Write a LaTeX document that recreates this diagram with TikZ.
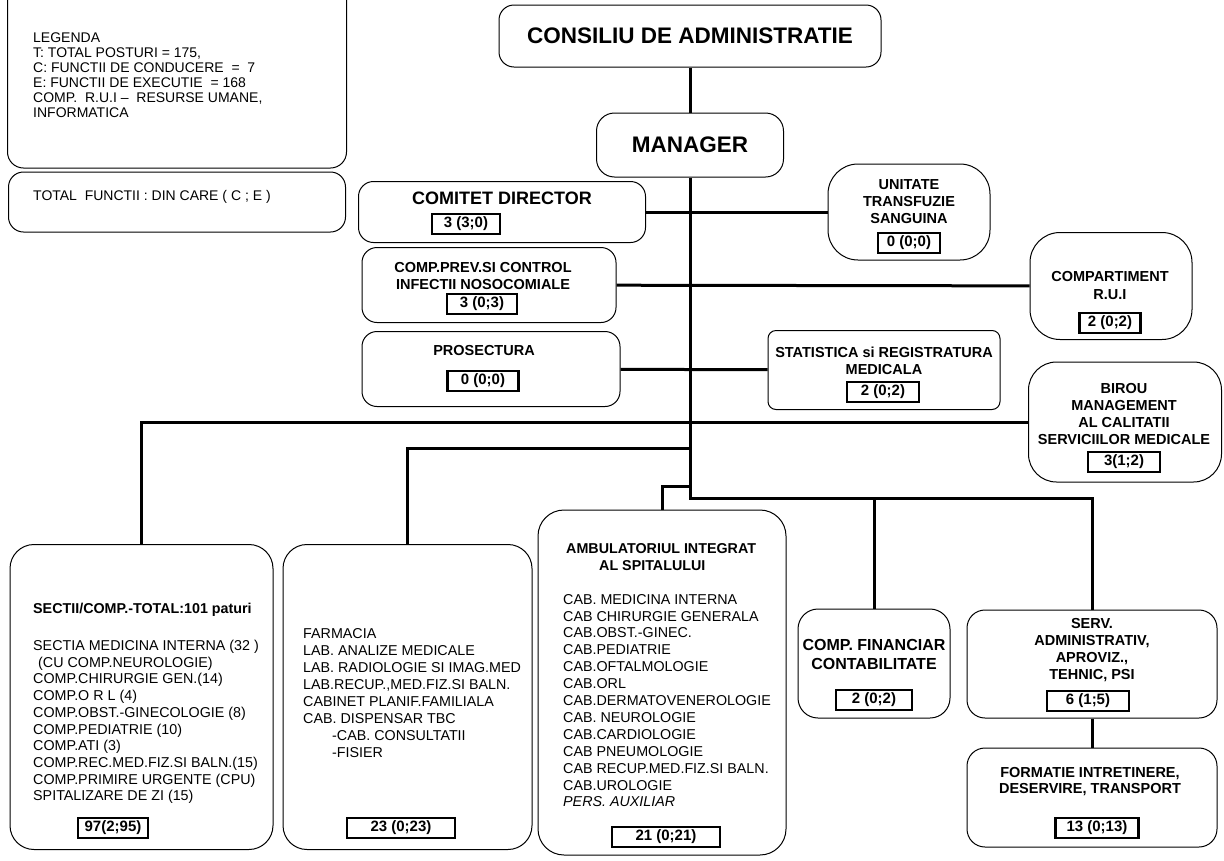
\documentclass[tikz,border=0pt]{standalone}
\usepackage{fontspec}
\setmainfont{Liberation Sans}
\usetikzlibrary{positioning}

\begin{document}
\begin{tikzpicture}[x=1pt,y=-1pt,
	box/.style={draw,line width=1pt,rounded corners=15pt},
	roundbox/.style={box,rounded corners=30pt},
	cnt/.style={draw,line width=2.6pt,inner sep=0pt,minimum height=20pt,font=\bfseries\fontsize{15}{17}\selectfont},
	lbl/.style={align=center,inner sep=0pt,font=\bfseries\fontsize{14.5}{17}\selectfont},
	lst/.style={align=left,anchor=north west,inner sep=0pt,font=\fontsize{14.3}{16.8}\selectfont},
	conn/.style={line width=3pt},
	]
	\useasboundingbox (0,0) rectangle (1224,860);
	% top
	\node[box,minimum width=382,minimum height=62,font=\bfseries\fontsize{22.5}{26}\selectfont] (consiliu) at (690,36) {CONSILIU DE ADMINISTRATIE};
	\node[box,rounded corners=18pt,minimum width=187,minimum height=64,font=\bfseries\fontsize{22.5}{26}\selectfont] (manager) at (690,145) {MANAGER};
	% legend
	\node[box,rounded corners=16pt,minimum width=339,minimum height=190] (legenda) at (177,73) {};
	\node[lst,font=\fontsize{14}{15}\selectfont] (legtxt) at (33,33) {LEGENDA\\T: TOTAL POSTURI = 175,\\C: FUNCTII DE CONDUCERE \ = \ 7\\E: FUNCTII DE EXECUTIE \ = 168\\COMP. \ R.U.I -- \ RESURSE UMANE,\\INFORMATICA};
	\node[box,minimum width=337,minimum height=60] (totalf) at (177,202) {};
	\node[anchor=base west,inner sep=0pt,font=\fontsize{14}{15}\selectfont] (totaltxt) at (33,200) {TOTAL \ FUNCTII : DIN CARE ( C ; E )};
	% left of the trunk
	\node[box,minimum width=287,minimum height=61] (comitet) at (502,212) {};
	\node[lbl,font=\bfseries\fontsize{18}{20}\selectfont] (comitettxt) at (502,198) {COMITET DIRECTOR};
	\node[cnt,minimum width=68] (comitetnr) at (466,224) {3 (3;0)};
	\node[box,minimum width=254,minimum height=75] (prev) at (489,285) {};
	\node[lbl] (prevtxt) at (483,276) {COMP.PREV.SI CONTROL\\INFECTII NOSOCOMIALE};
	\node[cnt,minimum width=70] (prevnr) at (482,304) {3 (0;3)};
	\node[box,minimum width=258,minimum height=75] (prosect) at (491,369) {};
	\node[lbl] (prosecttxt) at (484,351) {PROSECTURA};
	\node[cnt,minimum width=71] (prosectnr) at (483,381) {0 (0;0)};
	% right of the trunk
	\node[roundbox,minimum width=162,minimum height=96] (unitate) at (909,212) {};
	\node[lbl] (unitatetxt) at (909,202) {UNITATE\\TRANSFUZIE\\SANGUINA};
	\node[cnt,minimum width=62] (unitatenr) at (909,243) {0 (0;0)};
	\node[roundbox,minimum width=162,minimum height=107] (rui) at (1111,286) {};
	\node[lbl,font=\bfseries\fontsize{14.5}{18}\selectfont] (ruitxt) at (1110,286) {COMPARTIMENT\\R.U.I};
	\node[cnt,minimum width=61] (ruinr) at (1110,323) {2 (0;2)};
	\node[box,rounded corners=8pt,minimum width=232,minimum height=79] (statist) at (884,370) {};
	\node[lbl] (statisttxt) at (884,361) {STATISTICA si REGISTRATURA\\MEDICALA};
	\node[cnt,minimum width=72] (statistnr) at (883,392) {2 (0;2)};
	\node[roundbox,rounded corners=28pt,minimum width=193,minimum height=120] (birou) at (1125,422) {};
	\node[lbl] (biroutxt) at (1124,414) {BIROU\\MANAGEMENT\\AL CALITATII\\SERVICIILOR MEDICALE};
	\node[cnt,minimum width=72] (birounr) at (1124,462) {3(1;2)};
	% bottom row
	\node[box,rounded corners=24pt,minimum width=263,minimum height=305] (sectii) at (141.5,697) {};
	\node[lst,font=\bfseries\fontsize{14.3}{16.8}\selectfont] (sectiititle) at (33,603) {SECTII/COMP.-TOTAL:101 paturi};
	\node[lst,font=\fontsize{14.3}{16.7}\selectfont] (sectiitxt) at (33,640) {SECTIA MEDICINA INTERNA (32 )\\\hspace*{5pt}(CU COMP.NEUROLOGIE)\\COMP.CHIRURGIE GEN.(14)\\COMP.O R L (4)\\COMP.OBST.-GINECOLOGIE (8)\\COMP.PEDIATRIE (10)\\COMP.ATI (3)\\COMP.REC.MED.FIZ.SI BALN.(15)\\COMP.PRIMIRE URGENTE (CPU)\\SPITALIZARE DE ZI (15)};
	\node[cnt,minimum width=70] (sectiinr) at (113,828) {97(2;95)};
	\node[box,rounded corners=24pt,minimum width=249,minimum height=305] (farmacia) at (407.5,697) {};
	\node[lst,font=\fontsize{14.3}{17.1}\selectfont] (farmaciatxt) at (303,628) {FARMACIA\\LAB. ANALIZE MEDICALE\\LAB. RADIOLOGIE SI IMAG.MED\\LAB.RECUP.,MED.FIZ.SI BALN.\\CABINET PLANIF.FAMILIALA\\CAB. DISPENSAR TBC\\\hspace*{29pt}-CAB. CONSULTATII\\\hspace*{29pt}-FISIER};
	\node[cnt,minimum width=108] (farmacianr) at (401,828) {23 (0;23)};
	\node[box,rounded corners=26pt,minimum width=248,minimum height=345] (ambul) at (662,682.5) {};
	\node[lst,font=\bfseries\fontsize{14.3}{17}\selectfont] (ambultitle) at (566,543) {AMBULATORIUL INTEGRAT\\\hspace*{33pt}AL SPITALULUI};
	\node[lst,font=\fontsize{14.3}{16.9}\selectfont] (ambultxt) at (563,594) {CAB. MEDICINA INTERNA\\CAB CHIRURGIE GENERALA\\CAB.OBST.-GINEC.\\CAB.PEDIATRIE\\CAB.OFTALMOLOGIE\\CAB.ORL\\CAB.DERMATOVENEROLOGIE\\CAB. NEUROLOGIE\\CAB.CARDIOLOGIE\\CAB PNEUMOLOGIE\\CAB RECUP.MED.FIZ.SI BALN.\\CAB.UROLOGIE\\\textit{PERS. AUXILIAR}};
	\node[cnt,minimum width=108] (ambulnr) at (666,837) {21 (0;21)};
	\node[box,rounded corners=20pt,minimum width=152,minimum height=109] (comfin) at (874,663.5) {};
	\node[lbl,font=\bfseries\fontsize{16}{19}\selectfont] (comfintxt) at (874,654) {COMP. FINANCIAR\\CONTABILITATE};
	\node[cnt,minimum width=76] (comfinnr) at (874,700) {2 (0;2)};
	\node[box,rounded corners=18pt,minimum width=250,minimum height=108] (serv) at (1092,664) {};
	\node[lbl] (servtxt) at (1092,650) {SERV.\\ADMINISTRATIV,\\APROVIZ.,\\TEHNIC, PSI};
	\node[cnt,minimum width=82] (servnr) at (1088,701) {6 (1;5)};
	\node[box,rounded corners=18pt,minimum width=250,minimum height=99] (formatie) at (1092,797.5) {};
	\node[lbl,font=\bfseries\fontsize{14.5}{16}\selectfont] (formatietxt) at (1090,782) {FORMATIE INTRETINERE,\\DESERVIRE, TRANSPORT};
	\node[cnt,minimum width=83] (formatienr) at (1097,828) {13 (0;13)};
	% connectors
	\coordinate (trunk) at (690,498);
	\coordinate (jfarm) at (690,448);
	\coordinate (jamb) at (690,486);
	\draw[conn] (consiliu) -- (manager);
	\draw[conn] (manager) -- (trunk) -| (serv.north);
	\draw[conn] (comfin.north) -- (comfin.north |- trunk);
	\draw[conn] (serv) -- (formatie);
	\draw[conn] (comitet) -- (unitate);
	\draw[conn] (prev) -- (rui);
	\draw[conn] (prosect) -- (statist);
	\draw[conn] (birou) -- (birou.west -| sectii.north) -- (sectii.north);
	\draw[conn] (farmacia.north) |- (jfarm);
	\draw[conn] (ambul.north) |- (jamb);
\end{tikzpicture}
\end{document}
